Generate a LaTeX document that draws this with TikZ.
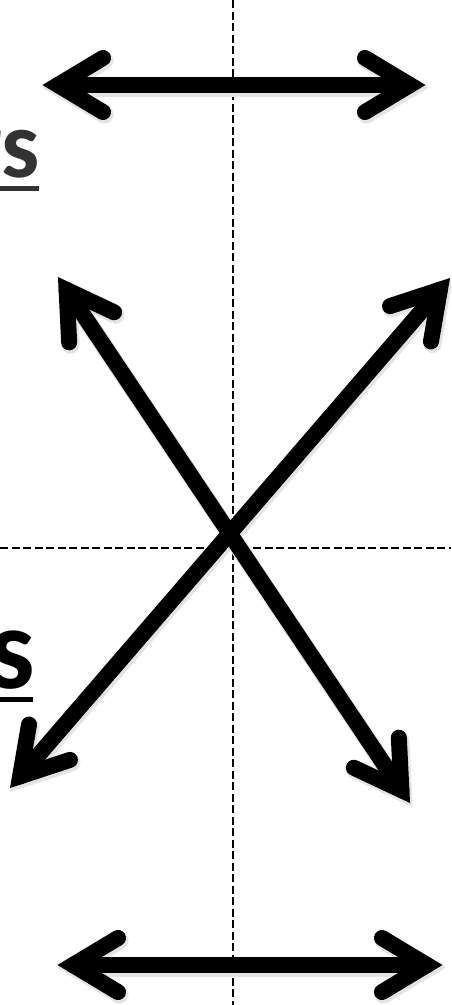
\documentclass[tikz,border=0pt]{standalone}
\usepackage{fontspec}
\setmainfont{Carlito}
\usetikzlibrary{calc}
\definecolor{textgray}{HTML}{333333}
\definecolor{shadowgray}{HTML}{E4E4E4}
\tikzset{
  arrowline/.style={line width=16pt, line cap=round, line join=miter, miter limit=10, black},
  arrowshade/.style={line width=18pt, line cap=round, line join=miter, miter limit=10, shadowgray,
    transform canvas={shift={(1.5pt,-2.5pt)}}},
  guide/.style={line width=1.8pt, dash pattern=on 8pt off 3.5pt, black},
  ulrule/.style={line width=5pt},
  label/.style={font=\bfseries, anchor=base east, inner sep=0pt},
}
\newcommand{\dblarrow}[3]{%
  \draw[#3] (#1) -- (#2);
  \draw[#3] ($(#1)!52.5pt!31:(#2)$) -- (#1) -- ($(#1)!52.5pt!-31:(#2)$);
  \draw[#3] ($(#2)!52.5pt!31:(#1)$) -- (#2) -- ($(#2)!52.5pt!-31:(#1)$);
}
\begin{document}
\begin{tikzpicture}[x=1pt,y=-1pt]
  \useasboundingbox (0,0) rectangle (451,1005);
  \clip (0,0) rectangle (451,1005);
  \fill[white] (0,0) rectangle (451,1005);

  % guide lines
  \coordinate (vtop) at (233,0);
  \coordinate (vbot) at (233,1005);
  \coordinate (hleft) at (0,548);
  \coordinate (hright) at (451,548);
  \draw[guide] (vtop) -- (vbot);
  \draw[guide] (hleft) -- (hright);

  % arrow end points (tip vertices)
  \coordinate (topL) at (58,85);
  \coordinate (topR) at (410,85);
  \coordinate (botL) at (73,965);
  \coordinate (botR) at (427,965);
  \coordinate (dUL) at (66.6,289.9);
  \coordinate (dLR) at (401.4,790.1);
  \coordinate (dUR) at (439.9,289.7);
  \coordinate (dLL) at (20.1,776.3);

  % shadows
  \dblarrow{topL}{topR}{arrowshade}
  \dblarrow{botL}{botR}{arrowshade}
  \dblarrow{dUL}{dLR}{arrowshade}
  \dblarrow{dUR}{dLL}{arrowshade}
  % arrows
  \dblarrow{topL}{topR}{arrowline}
  \dblarrow{botL}{botR}{arrowline}
  \dblarrow{dUL}{dLR}{arrowline}
  \dblarrow{dUR}{dLL}{arrowline}

  % partial labels
  \node[label, text=textgray, font=\bfseries\fontsize{96}{100}\selectfont] (labA) at (40,177) {rs};
  \coordinate (ulAa) at (0,188);
  \coordinate (ulAb) at (39,188);
  \draw[ulrule, textgray] (ulAa) -- (ulAb);

  \node[label, text=black, font=\bfseries\fontsize{117}{120}\selectfont] (labB) at (35.5,688) {s};
  \coordinate (ulBa) at (0,699);
  \coordinate (ulBb) at (33,699);
  \draw[ulrule, black] (ulBa) -- (ulBb);
\end{tikzpicture}
\end{document}
